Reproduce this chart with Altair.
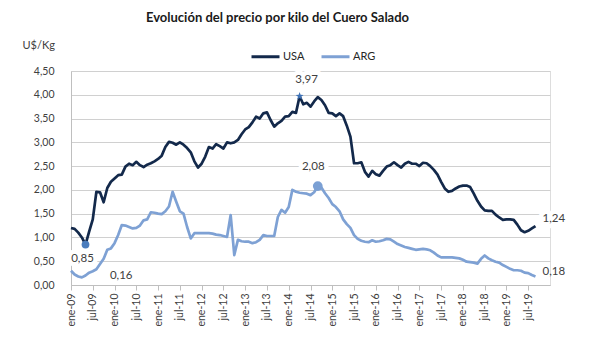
import altair as alt
import pandas as pd

# ---------------- data (monthly, ene-09 .. sep-19) ----------------
usa = [
    1.20, 1.18, 1.10, 1.00, 0.85, 1.12, 1.38, 1.96, 1.95, 1.74, 2.04, 2.17,
    2.24, 2.31, 2.32, 2.49, 2.55, 2.52, 2.59, 2.52, 2.48, 2.53, 2.56, 2.60,
    2.65, 2.72, 2.90, 3.01, 2.99, 2.95, 3.00, 2.95, 2.88, 2.79, 2.60, 2.47,
    2.55, 2.70, 2.90, 2.87, 2.96, 2.92, 2.87, 3.00, 2.98, 3.00, 3.05, 3.17,
    3.27, 3.32, 3.42, 3.54, 3.50, 3.61, 3.63, 3.47, 3.33, 3.40, 3.45, 3.54,
    3.55, 3.64, 3.62, 3.97, 3.80, 3.83, 3.75, 3.86, 3.95, 3.89, 3.78, 3.62,
    3.61, 3.55, 3.61, 3.55, 3.35, 3.12, 2.56, 2.56, 2.58, 2.38, 2.28, 2.40,
    2.33, 2.30, 2.40, 2.49, 2.52, 2.58, 2.52, 2.47, 2.55, 2.59, 2.55, 2.55,
    2.50, 2.57, 2.56, 2.50, 2.42, 2.32, 2.17, 2.03, 1.96, 1.98, 2.03, 2.07,
    2.09, 2.09, 2.06, 1.92, 1.77, 1.65, 1.57, 1.56, 1.56, 1.48, 1.42, 1.37,
    1.38, 1.38, 1.37, 1.27, 1.15, 1.11, 1.14, 1.19, 1.24,
]
arg = [
    0.30, 0.22, 0.18, 0.16, 0.20, 0.26, 0.29, 0.33, 0.44, 0.55, 0.74, 0.77,
    0.88, 1.05, 1.26, 1.25, 1.22, 1.19, 1.20, 1.25, 1.36, 1.38, 1.53, 1.52,
    1.50, 1.49, 1.55, 1.65, 1.96, 1.75, 1.55, 1.50, 1.22, 0.98, 1.09, 1.09,
    1.09, 1.09, 1.09, 1.08, 1.06, 1.05, 1.03, 1.01, 1.47, 0.63, 0.95, 0.92,
    0.91, 0.91, 0.88, 0.90, 0.95, 1.05, 1.03, 1.03, 1.03, 1.43, 1.58, 1.52,
    1.64, 2.00, 1.96, 1.94, 1.93, 1.92, 1.89, 1.95, 2.08, 2.05, 1.93, 1.83,
    1.70, 1.64, 1.55, 1.38, 1.28, 1.20, 1.05, 0.97, 0.93, 0.91, 0.90, 0.94,
    0.91, 0.92, 0.94, 0.97, 0.96, 0.91, 0.86, 0.83, 0.80, 0.78, 0.76, 0.74,
    0.75, 0.76, 0.75, 0.73, 0.68, 0.62, 0.58, 0.58, 0.58, 0.58, 0.57, 0.56,
    0.53, 0.49, 0.48, 0.47, 0.45, 0.55, 0.62, 0.56, 0.52, 0.49, 0.47, 0.42,
    0.38, 0.34, 0.31, 0.31, 0.30, 0.26, 0.25, 0.21, 0.18,
]
series = ["USA", "ARG"]
colors = ["#13294b", "#7ea1d4"]
x_tick_idx = list(range(0, 127, 6))          # ene-09, jul-09, ... jul-19
y_ticks = [0.0, 0.5, 1.0, 1.5, 2.0, 2.5, 3.0, 3.5, 4.0, 4.5]

# ---------------- frames ----------------
n = len(usa)
df = pd.DataFrame({
    "idx": list(range(n)) * 2,
    "valor": usa + arg,
    "serie": ["USA"] * n + ["ARG"] * n,
})

def pt(s, i):
    vals = usa if s == "USA" else arg
    return {"serie": s, "idx": i, "valor": vals[i],
            "txt": f"{vals[i]:.2f}".replace(".", ",")}

usa_min = usa.index(min(usa))
usa_max = usa.index(max(usa))
arg_min = arg.index(min(arg))
arg_max = arg.index(max(arg))
last = n - 1

# (point, dx, dy, align, white box)
annots = [
    (pt("USA", usa_min), -3, 14.5, "center", True),
    (pt("ARG", arg_min), 28, -1.5, "left", False),
    (pt("USA", usa_max), 7, -16, "center", True),
    (pt("ARG", arg_max), -4.5, -19, "center", True),
    (pt("USA", last), 7, -7, "left", True),
    (pt("ARG", last), 7, -4.5, "left", False),
]

FONT = "Lato"
TXT = "#404040"

x_enc = alt.X(
    "idx:Q",
    scale=alt.Scale(domain=[0, 132], nice=False, zero=False),
    axis=alt.Axis(
        values=x_tick_idx, tickCount=100,
        labelExpr="(datum.value % 12 == 0 ? 'ene-' : 'jul-') + format(9 + floor(datum.value / 12), '02d')",
        labelAngle=270, labelAlign="right", labelBaseline="middle",
        labelFont=FONT, labelFontSize=10.5, labelColor=TXT, labelPadding=3,
        grid=False, tickSize=5, tickColor="#bfbfbf", domainColor="#bfbfbf",
        title=None, labelOverlap=False,
    ),
)
y_enc = alt.Y(
    "valor:Q",
    scale=alt.Scale(domain=[0, 4.5], nice=False),
    axis=alt.Axis(
        values=y_ticks, tickCount=100, labelOverlap=False,
        labelExpr="replace(format(datum.value, '.2f'), '.', ',')",
        labelFont=FONT, labelFontSize=10.5, labelColor=TXT, labelPadding=17,
        grid=True, gridColor="#d0d0d0", gridWidth=1.2, ticks=False,
        domainColor="#bfbfbf",
        title="U$/Kg", titleAngle=0, titleX=-49, titleY=-26,
        titleAlign="left", titleBaseline="middle", titleFont=FONT,
        titleFontSize=11, titleFontWeight="normal", titleColor=TXT,
    ),
)

lines = alt.Chart(df).mark_line(strokeWidth=2.7, strokeJoin="round").encode(
    x=x_enc, y=y_enc,
    color=alt.Color(
        "serie:N",
        scale=alt.Scale(domain=series, range=colors),
        sort=series,
        legend=alt.Legend(
            orient="none", legendX=179, legendY=-30, direction="horizontal",
            title=None, symbolType="stroke", symbolSize=784,
            symbolStrokeWidth=3, labelFont=FONT, labelFontSize=11,
            labelColor="#262626", columnPadding=10, labelOffset=2,
        ),
    ),
)

star = ("M0,-1L0.235,-0.324L0.951,-0.309L0.380,0.124L0.588,0.809L0,0.4"
        "L-0.588,0.809L-0.380,0.124L-0.951,-0.309L-0.235,-0.324Z")
markers = [
    alt.Chart(pd.DataFrame([pt("USA", usa_min)])).mark_point(
        shape="circle", filled=True, size=60, color="#4b7dbd", opacity=1),
    alt.Chart(pd.DataFrame([pt("USA", usa_max)])).mark_point(
        shape=star, filled=True, size=70, color="#3f72b5", opacity=1),
    alt.Chart(pd.DataFrame([pt("ARG", arg_max)])).mark_point(
        shape="circle", filled=True, size=95, color="#7ba0d4", opacity=1),
]
markers = [m.encode(x="idx:Q", y="valor:Q") for m in markers]

labels = []
for p, dx, dy, al, box in annots:
    base = alt.Chart(pd.DataFrame([p])).encode(x="idx:Q", y="valor:Q", text="txt:N")
    if box:
        labels.append(base.mark_text(
            dx=dx, dy=dy, align=al, baseline="middle", font=FONT, fontSize=11.5,
            color="white", stroke="white", strokeWidth=9, strokeJoin="round"))
    labels.append(base.mark_text(
        dx=dx, dy=dy, align=al, baseline="middle", font=FONT, fontSize=11.5,
        color=TXT))

chart = alt.layer(lines, *labels, *markers).properties(
    width=479, height=214,
    autosize=alt.AutoSizeParams(type="none"),
    padding={"left": 71, "top": 71, "right": 49, "bottom": 68},
    title=alt.TitleParams(
        "Evolución del precio por kilo del Cuero Salado",
        font=FONT, fontSize=13, fontWeight="bold", color="#1a1a1a",
        anchor="middle", dx=-33, offset=14, frame="group",
    ),
).configure_view(stroke=None).configure(background="white")

chart.save("out.html", embed_options={"renderer": "svg", "actions": False})
